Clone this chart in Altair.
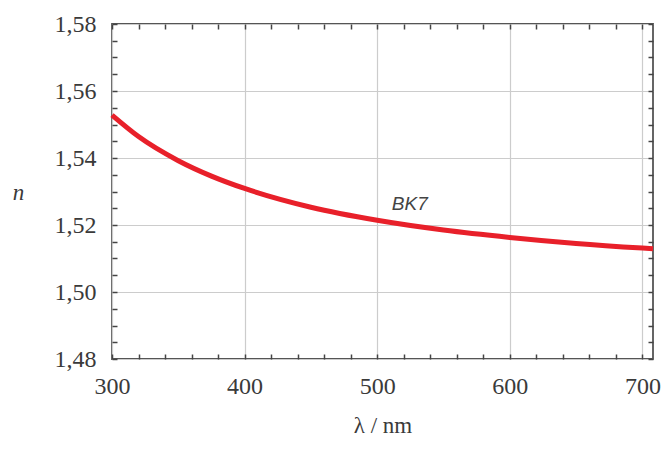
import altair as alt
import pandas as pd

wavelength = [300, 320, 350, 375, 400, 450, 500, 550, 600, 650, 700, 708]
index_n = [1.5528, 1.5464, 1.5392, 1.5346, 1.5309, 1.5253, 1.5214, 1.5185, 1.5163, 1.5145, 1.5131, 1.5129]

x_ticks_major = [300, 400, 500, 600, 700]
y_ticks_major = [1.48, 1.50, 1.52, 1.54, 1.56, 1.58]
x_ticks_minor = list(range(300, 701, 20))
y_ticks_minor = [round(1.48 + 0.005 * i, 3) for i in range(21)]

label_x = [511]
label_y = [1.5263]
label_text = ["BK7"]

df = pd.DataFrame({"lam": wavelength, "n": index_n})
lab = pd.DataFrame({"lam": label_x, "n": label_y, "t": label_text})

xs = alt.Scale(domain=[300, 708], nice=False, zero=False)
ys = alt.Scale(domain=[1.48, 1.58], nice=False, zero=False)

serif = "Liberation Serif"
txtc = "#3a3a3a"

main = alt.Chart(df).mark_line(color="#e8202a", strokeWidth=5, interpolate="monotone").encode(
    x=alt.X("lam:Q", scale=xs, axis=alt.Axis(
        values=x_ticks_major, title="λ / nm", titleFont=serif, titleFontSize=23,
        titleFontWeight="normal", titleColor=txtc, titlePadding=16,
        labelFont=serif, labelFontSize=24, labelColor=txtc, labelPadding=15,
        ticks=False, domain=False, grid=True, gridColor="#cccccc", gridWidth=1.2,
        labelFlush=False)),
    y=alt.Y("n:Q", scale=ys, axis=alt.Axis(
        values=y_ticks_major, title="n", titleFont=serif, titleFontSize=23,
        titleFontStyle="italic", titleFontWeight="normal", titleColor=txtc,
        titleAngle=0, titleX=-94, titleY=168, titleAlign="center", titleBaseline="middle",
        labelFont=serif, labelFontSize=24, labelColor=txtc, labelPadding=16,
        labelExpr="replace(format(datum.value, '.2f'), '.', ',')",
        ticks=False, domain=False, grid=True, gridColor="#cccccc", gridWidth=1.2,
        labelFlush=False)),
)

ticks_bl = alt.Chart(df).mark_line(opacity=0).encode(
    x=alt.X("lam:Q", scale=xs, axis=alt.Axis(
        orient="bottom", offset=-5, values=x_ticks_minor, tickSize=5, tickWidth=1.5,
        tickColor="#444444", labels=False, domain=False, grid=False, title=None)),
    y=alt.Y("n:Q", scale=ys, axis=alt.Axis(
        orient="left", offset=-5, values=y_ticks_minor, tickSize=5, tickWidth=1.5,
        tickColor="#444444", labels=False, domain=False, grid=False, title=None)),
)

ticks_tr = alt.Chart(df).mark_line(opacity=0).encode(
    x=alt.X("lam:Q", scale=xs, axis=alt.Axis(
        orient="top", offset=-5, values=x_ticks_minor, tickSize=5, tickWidth=1.5,
        tickColor="#444444", labels=False, domain=False, grid=False, title=None)),
    y=alt.Y("n:Q", scale=ys, axis=alt.Axis(
        orient="right", offset=-5, values=y_ticks_minor, tickSize=5, tickWidth=1.5,
        tickColor="#444444", labels=False, domain=False, grid=False, title=None)),
)

text = alt.Chart(lab).mark_text(
    font="Liberation Sans", fontStyle="italic", fontSize=19, color="#444444",
    align="left", baseline="middle").encode(
    x=alt.X("lam:Q", scale=xs, axis=None), y=alt.Y("n:Q", scale=ys, axis=None), text="t:N")

chart = alt.layer(main, ticks_bl, ticks_tr, text).resolve_axis(
    x="independent", y="independent"
).properties(
    width=541, height=335, autosize="none",
    padding={"left": 112, "top": 24, "right": 16, "bottom": 90},
).configure_view(stroke="#555555", strokeWidth=1.8)

chart.save("out.html", embed_options={"renderer": "svg", "actions": False})
